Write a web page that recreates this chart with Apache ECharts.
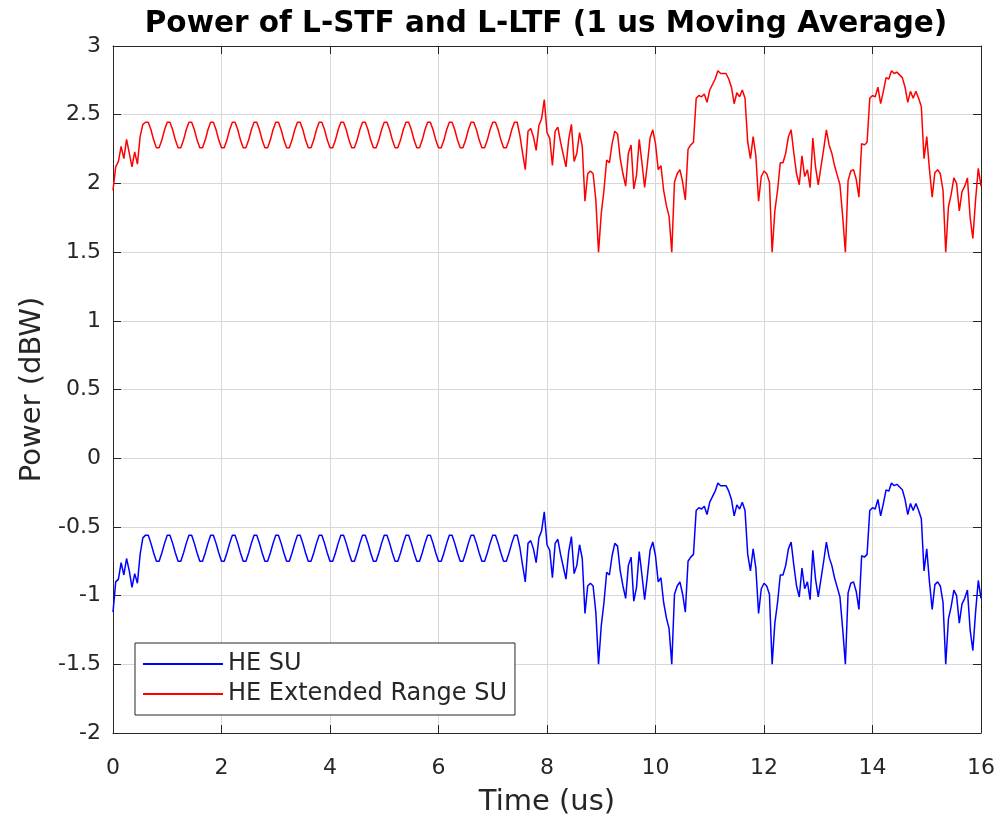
<!DOCTYPE html>
<html><head><meta charset="utf-8">
<script src="https://cdn.jsdelivr.net/npm/echarts@6/dist/echarts.min.js"></script>
<style>html,body{margin:0;padding:0;background:#fff}#c{width:1000px;height:814px}</style>
</head><body><div id="c"></div>
<script>
// Sample spacing of the moving-average power trace (microseconds)
const sampleStepUs = 0.05;

const seriesNames = ['HE SU', 'HE Extended Range SU'];

// HE SU power (dBW), one value per sample from 0 to 16 us
const heSU = [
  -1.12, -0.90, -0.88, -0.76, -0.85, -0.73, -0.82, -0.94, -0.84, -0.91, -0.70, -0.58,
  -0.56, -0.56, -0.62, -0.69, -0.75, -0.75, -0.69, -0.62,
  -0.56, -0.56, -0.62, -0.69, -0.75, -0.75, -0.69, -0.62,
  -0.56, -0.56, -0.62, -0.69, -0.75, -0.75, -0.69, -0.62,
  -0.56, -0.56, -0.62, -0.69, -0.75, -0.75, -0.69, -0.62,
  -0.56, -0.56, -0.62, -0.69, -0.75, -0.75, -0.69, -0.62,
  -0.56, -0.56, -0.62, -0.69, -0.75, -0.75, -0.69, -0.62,
  -0.56, -0.56, -0.62, -0.69, -0.75, -0.75, -0.69, -0.62,
  -0.56, -0.56, -0.62, -0.69, -0.75, -0.75, -0.69, -0.62,
  -0.56, -0.56, -0.62, -0.69, -0.75, -0.75, -0.69, -0.62,
  -0.56, -0.56, -0.62, -0.69, -0.75, -0.75, -0.69, -0.62,
  -0.56, -0.56, -0.62, -0.69, -0.75, -0.75, -0.69, -0.62,
  -0.56, -0.56, -0.62, -0.69, -0.75, -0.75, -0.69, -0.62,
  -0.56, -0.56, -0.62, -0.69, -0.75, -0.75, -0.69, -0.62,
  -0.56, -0.56, -0.62, -0.69, -0.75, -0.75, -0.69, -0.62,
  -0.56, -0.56, -0.62, -0.69, -0.75, -0.75, -0.69, -0.62,
  -0.56, -0.56, -0.62, -0.69, -0.75, -0.75, -0.69, -0.62,
  -0.56, -0.56, -0.62, -0.69, -0.75, -0.75, -0.69, -0.62,
  -0.56, -0.56, -0.65, -0.78, -0.90, -0.62, -0.60, -0.66, -0.76, -0.58,
  -0.53, -0.39, -0.63, -0.67, -0.87, -0.62, -0.59, -0.70, -0.79, -0.88,
  -0.68, -0.57, -0.84, -0.78, -0.63, -0.73, -1.13, -0.93, -0.91, -0.93,
  -1.12, -1.50, -1.22, -1.05, -0.83, -0.85, -0.71, -0.62, -0.64, -0.82,
  -0.93, -1.02, -0.78, -0.72, -1.04, -0.94, -0.68, -0.85, -1.03, -0.86,
  -0.67, -0.61, -0.71, -0.90, -0.87, -1.05, -1.16, -1.24, -1.50, -0.99,
  -0.93, -0.90, -0.99, -1.12, -0.75, -0.72, -0.70, -0.38, -0.36, -0.37,
  -0.35, -0.41, -0.32, -0.28, -0.24, -0.18, -0.20, -0.20, -0.20, -0.24,
  -0.30, -0.42, -0.34, -0.37, -0.32, -0.38, -0.70, -0.82, -0.66, -0.80,
  -1.13, -0.95, -0.91, -0.93, -0.99, -1.50, -1.20, -1.05, -0.85, -0.85,
  -0.78, -0.66, -0.61, -0.78, -0.93, -1.01, -0.80, -0.95, -0.90, -1.03,
  -0.67, -0.88, -1.01, -0.88, -0.75, -0.61, -0.72, -0.78, -0.87, -0.94,
  -1.01, -1.24, -1.50, -0.98, -0.91, -0.90, -0.97, -1.10, -0.71, -0.72,
  -0.70, -0.38, -0.36, -0.37, -0.30, -0.42, -0.33, -0.23, -0.24, -0.18,
  -0.20, -0.19, -0.21, -0.23, -0.30, -0.41, -0.33, -0.38, -0.33, -0.38,
  -0.44, -0.82, -0.66, -0.90, -1.10, -0.92, -0.90, -0.93, -1.05, -1.50,
  -1.17, -1.08, -0.96, -1.00, -1.20, -1.06, -1.02, -0.96, -1.25, -1.40,
  -1.12, -0.89, -1.02
];

// HE Extended Range SU power (dBW), same sample grid
const heER = [
  1.95, 2.12, 2.16, 2.27, 2.18, 2.32, 2.22, 2.12, 2.23, 2.14, 2.34, 2.43,
  2.445, 2.445, 2.39, 2.315, 2.26, 2.26, 2.315, 2.39,
  2.445, 2.445, 2.39, 2.315, 2.26, 2.26, 2.315, 2.39,
  2.445, 2.445, 2.39, 2.315, 2.26, 2.26, 2.315, 2.39,
  2.445, 2.445, 2.39, 2.315, 2.26, 2.26, 2.315, 2.39,
  2.445, 2.445, 2.39, 2.315, 2.26, 2.26, 2.315, 2.39,
  2.445, 2.445, 2.39, 2.315, 2.26, 2.26, 2.315, 2.39,
  2.445, 2.445, 2.39, 2.315, 2.26, 2.26, 2.315, 2.39,
  2.445, 2.445, 2.39, 2.315, 2.26, 2.26, 2.315, 2.39,
  2.445, 2.445, 2.39, 2.315, 2.26, 2.26, 2.315, 2.39,
  2.445, 2.445, 2.39, 2.315, 2.26, 2.26, 2.315, 2.39,
  2.445, 2.445, 2.39, 2.315, 2.26, 2.26, 2.315, 2.39,
  2.445, 2.445, 2.39, 2.315, 2.26, 2.26, 2.315, 2.39,
  2.445, 2.445, 2.39, 2.315, 2.26, 2.26, 2.315, 2.39,
  2.445, 2.445, 2.39, 2.315, 2.26, 2.26, 2.315, 2.39,
  2.445, 2.445, 2.39, 2.315, 2.26, 2.26, 2.315, 2.39,
  2.445, 2.445, 2.39, 2.315, 2.26, 2.26, 2.315, 2.39,
  2.445, 2.445, 2.39, 2.315, 2.26, 2.26, 2.315, 2.39,
  2.445, 2.445, 2.35, 2.22, 2.10, 2.38, 2.40, 2.34, 2.24, 2.42,
  2.47, 2.61, 2.37, 2.33, 2.13, 2.38, 2.41, 2.30, 2.21, 2.12,
  2.32, 2.43, 2.16, 2.22, 2.37, 2.27, 1.87, 2.07, 2.09, 2.07,
  1.88, 1.50, 1.78, 1.95, 2.17, 2.15, 2.29, 2.38, 2.36, 2.18,
  2.07, 1.98, 2.22, 2.28, 1.96, 2.06, 2.32, 2.15, 1.97, 2.14,
  2.33, 2.39, 2.29, 2.10, 2.13, 1.95, 1.84, 1.76, 1.50, 2.01,
  2.07, 2.10, 2.01, 1.88, 2.25, 2.28, 2.30, 2.62, 2.64, 2.63,
  2.65, 2.59, 2.68, 2.72, 2.76, 2.82, 2.80, 2.80, 2.80, 2.76,
  2.70, 2.58, 2.66, 2.63, 2.68, 2.62, 2.30, 2.18, 2.34, 2.20,
  1.87, 2.05, 2.09, 2.07, 2.01, 1.50, 1.80, 1.95, 2.15, 2.15,
  2.22, 2.34, 2.39, 2.22, 2.07, 1.99, 2.20, 2.05, 2.10, 1.97,
  2.33, 2.12, 1.99, 2.12, 2.25, 2.39, 2.28, 2.22, 2.13, 2.06,
  1.99, 1.76, 1.50, 2.02, 2.09, 2.10, 2.03, 1.90, 2.29, 2.28,
  2.30, 2.62, 2.64, 2.63, 2.70, 2.58, 2.67, 2.77, 2.76, 2.82,
  2.80, 2.81, 2.79, 2.77, 2.70, 2.59, 2.67, 2.62, 2.67, 2.62,
  2.56, 2.18, 2.34, 2.10, 1.90, 2.08, 2.10, 2.07, 1.95, 1.50,
  1.83, 1.92, 2.04, 2.00, 1.80, 1.94, 1.98, 2.04, 1.75, 1.60,
  1.88, 2.11, 1.98
];

const xRange = [0, 16], xStep = 2;
const yRange = [-2, 3], yStep = 0.5;

const times = heSU.map((_, i) => +(i * sampleStepUs).toFixed(2));
const toPairs = vals => vals.map((v, i) => [times[i], v]);

const ink = '#262626';
const font = 'DejaVu Sans';

const chart = echarts.init(document.getElementById('c'), null, { renderer: 'canvas' });

const axisCommon = {
  type: 'value',
  axisLine: { show: true, onZero: false, lineStyle: { color: ink, width: 1 } },
  axisTick: { show: true, inside: true, length: 8, lineStyle: { color: ink, width: 1 } },
  minorTick: { show: false }
};

chart.setOption({
  animation: false,
  backgroundColor: '#ffffff',
  title: {
    text: 'Power of L-STF and L-LTF (1 us Moving Average)',
    left: 541, top: 4, textAlign: 'center',
    textStyle: { fontFamily: font, fontWeight: 'bold', fontSize: 29.5, color: '#000' }
  },
  grid: { left: 113, right: 19, top: 46, bottom: 81, containLabel: false, outerBoundsMode: 'none' },
  legend: {
    data: seriesNames,
    orient: 'vertical',
    left: 135, top: 643,
    icon: 'rect', itemWidth: 80, itemHeight: 2, itemGap: 2,
    padding: [7, 8, 7, 8],
    backgroundColor: '#ffffff', borderColor: ink, borderWidth: 1,
    textStyle: { fontFamily: font, fontSize: 24, color: ink, lineHeight: 28 }
  },
  xAxis: [
    Object.assign({}, axisCommon, {
      min: xRange[0], max: xRange[1], interval: xStep, position: 'bottom',
      name: 'Time (us)', nameLocation: 'middle', nameGap: 55,
      nameTextStyle: { fontFamily: font, fontSize: 29, color: ink },
      axisLabel: { fontFamily: font, fontSize: 22, color: ink, margin: 24 },
      splitLine: { show: true, lineStyle: { color: '#d8d8d8', width: 1 } }
    }),
    Object.assign({}, axisCommon, {
      min: xRange[0], max: xRange[1], interval: xStep, position: 'top',
      axisLabel: { show: false }, splitLine: { show: false }
    })
  ],
  yAxis: [
    Object.assign({}, axisCommon, {
      min: yRange[0], max: yRange[1], interval: yStep, position: 'left',
      name: 'Power (dBW)', nameLocation: 'middle', nameGap: 66, nameRotate: 90,
      nameTextStyle: { fontFamily: font, fontSize: 29, color: ink },
      axisLabel: { fontFamily: font, fontSize: 22, color: ink, margin: 12 },
      splitLine: { show: true, lineStyle: { color: '#d8d8d8', width: 1 } }
    }),
    Object.assign({}, axisCommon, {
      min: yRange[0], max: yRange[1], interval: yStep, position: 'right',
      axisLabel: { show: false }, splitLine: { show: false }
    })
  ],
  series: [
    {
      name: seriesNames[0], type: 'line', data: toPairs(heSU),
      showSymbol: false, symbol: 'none', color: '#0000ff',
      lineStyle: { color: '#0000ff', width: 1.5 }, z: 3
    },
    {
      name: seriesNames[1], type: 'line', data: toPairs(heER),
      showSymbol: false, symbol: 'none', color: '#ff0000',
      lineStyle: { color: '#ff0000', width: 1.5 }, z: 3
    }
  ]
});
</script>
</body></html>
